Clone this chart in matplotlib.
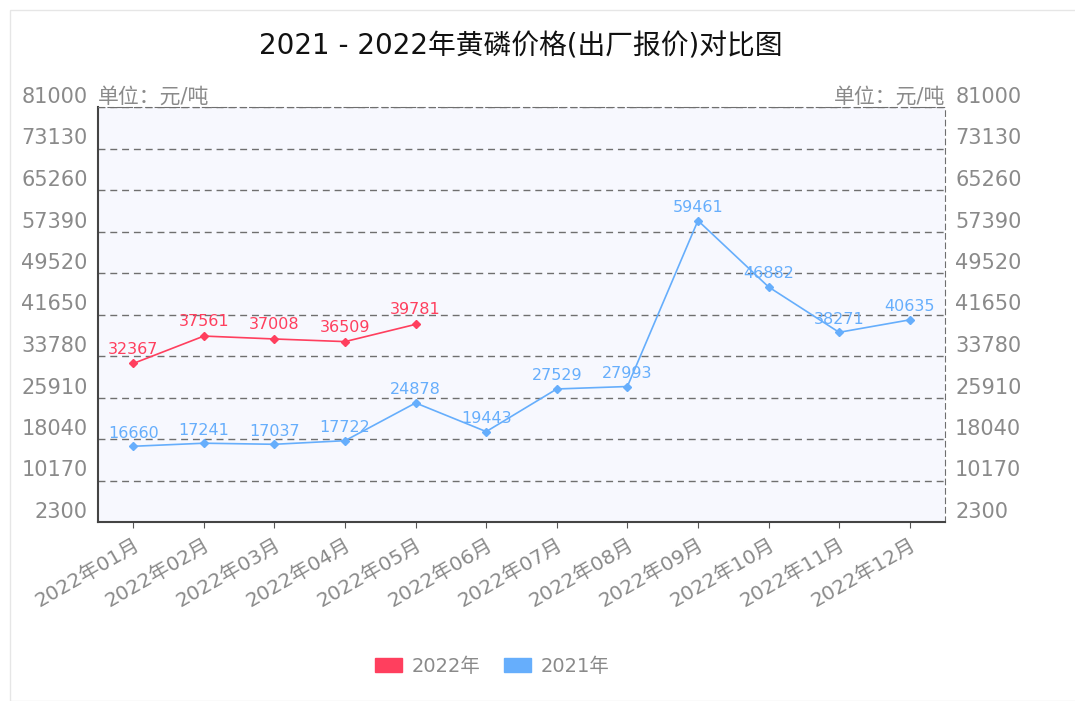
import matplotlib.pyplot as plt
import matplotlib.patches as mpatches
import numpy as np

plt.rcParams['font.family'] = ['DejaVu Sans', 'Noto Sans CJK SC']

# 数据
months = [f"2022年{m:02d}月" for m in range(1, 13)]
price_2022 = [32367, 37561, 37008, 36509, 39781]
price_2021 = [16660, 17241, 17037, 17722, 24878, 19443, 27529, 27993, 59461, 46882, 38271, 40635]
yticks = [2300, 10170, 18040, 25910, 33780, 41650, 49520, 57390, 65260, 73130, 81000]

red = '#ff3f5e'
blue = '#66aefc'
gray = '#8a8a8a'

fig = plt.figure(figsize=(10.75, 7.01), dpi=100)
fig.patches.append(mpatches.Rectangle((10/1075, 0), 1.2, (701-10)/701, transform=fig.transFigure,
                                      fill=False, edgecolor='#e6e6e6', lw=1))
ax = fig.add_axes([98/1075, 1-522/701, 847/1075, 415/701])
ax.set_facecolor('#f7f8fe')

x = np.arange(len(months))
ax.plot(x[:len(price_2022)], price_2022, color=red, lw=1.2, marker='D', ms=4, zorder=3)
ax.plot(x, price_2021, color=blue, lw=1.2, marker='D', ms=4, zorder=3)

for xi, v in zip(x, price_2022):
    ax.annotate(str(v), (xi, v), xytext=(0, 5), textcoords='offset points',
                ha='center', va='bottom', color=red, fontsize=11.5)
for xi, v in zip(x, price_2021):
    ax.annotate(str(v), (xi, v), xytext=(0, 4), textcoords='offset points',
                ha='center', va='bottom', color=blue, fontsize=11.5)

ax.set_xlim(-0.5, 11.5)
ax.set_ylim(2300, 81000)
ax.set_yticks(yticks)
ax.set_yticklabels([])
ax.grid(axis='y', linestyle=(0, (5, 3.5)), color='#6f6f6f', lw=1)
ax.set_axisbelow(True)

# y 轴刻度文字（左右两侧）
for v in yticks:
    ax.text(-0.012, v, str(v), transform=ax.get_yaxis_transform(), ha='right', va='bottom',
            color=gray, fontsize=15)
    ax.text(1.012, v, str(v), transform=ax.get_yaxis_transform(), ha='left', va='bottom',
            color=gray, fontsize=15)
ax.tick_params(axis='y', length=0)

ax.set_xticks(x)
ax.set_xticklabels(months, rotation=30, ha='right', rotation_mode='anchor', color=gray, fontsize=14.5)
ax.tick_params(axis='x', length=4, color='#555555', pad=6)

for s in ['left', 'bottom']:
    ax.spines[s].set_color('#444444')
    ax.spines[s].set_linewidth(1.5)
for s in ['top', 'right']:
    ax.spines[s].set_linestyle((0, (5, 3.5)))
    ax.spines[s].set_color('#6f6f6f')

ax.text(0.0, 1.0, '单位：元/吨', transform=ax.transAxes, ha='left', va='bottom', color=gray, fontsize=15)
ax.text(1.0, 1.0, '单位：元/吨', transform=ax.transAxes, ha='right', va='bottom', color=gray, fontsize=15)

fig.text(0.484, 1-47/701, '2021 - 2022年黄磷价格(出厂报价)对比图', ha='center', va='center',
         fontsize=20, color='#111111')

handles = [mpatches.Patch(color=red, label='2022年'), mpatches.Patch(color=blue, label='2021年')]
fig.legend(handles=handles, loc='center', bbox_to_anchor=(0.458, 1-666/701), ncol=2, frameon=False,
           fontsize=14, handlelength=1.4, handleheight=0.7, handletextpad=0.5, columnspacing=1.2,
           labelcolor=gray)

fig.savefig('out.png', dpi=100)
